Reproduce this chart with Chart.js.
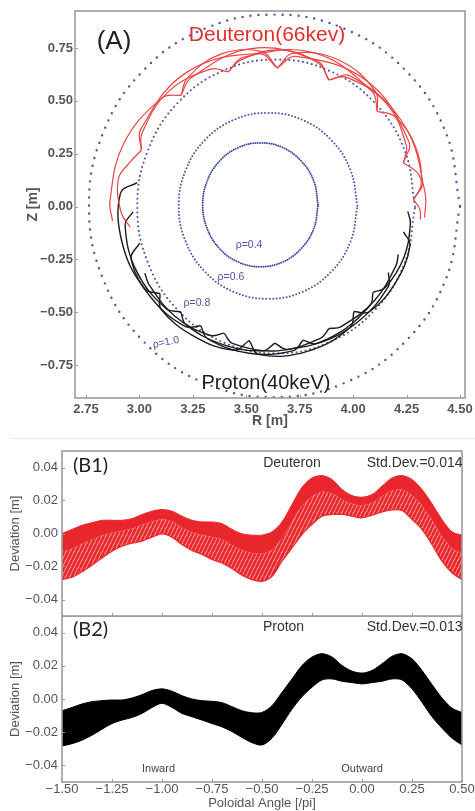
<!DOCTYPE html>
<html>
<head>
<meta charset="utf-8">
<title>Fast ion orbits and deviation</title>
<script src="https://cdn.jsdelivr.net/npm/chart.js@4.4.1/dist/chart.umd.min.js"></script>
<style>
  html, body { margin: 0; padding: 0; background: #fff; }
  body { width: 475px; height: 811px; position: relative; overflow: hidden; }
  canvas { position: absolute; left: 0; }
  #orbitChart { top: 0; }
  #deuteronChart { top: 440px; }
  #protonChart { top: 616px; }
  .sep { position: absolute; left: 10px; right: 0; top: 438px; border-top: 1px solid #e6eaf0; }
</style>
</head>
<body>
<div class="sep"></div>
<canvas id="orbitChart" width="475" height="430"></canvas>
<canvas id="deuteronChart" width="475" height="180"></canvas>
<canvas id="protonChart" width="475" height="195"></canvas>
<script>
// ---- panel A: poloidal cross-section, points are [R, Z] in m ----
const rTicks = [2.75, 3.00, 3.25, 3.50, 3.75, 4.00, 4.25, 4.50];
const zTicks = [-0.75, -0.50, -0.25, 0.00, 0.25, 0.50, 0.75];

const surfaceRho10 = [[4.500,0.003],[4.434,0.349],[4.246,0.643],[3.964,0.839],[3.632,0.908],[3.300,0.839],[3.018,0.643],[2.830,0.349],
  [2.764,0.003],[2.830,-0.343],[3.018,-0.637],[3.300,-0.833],[3.632,-0.902],[3.964,-0.833],[4.246,-0.637],[4.434,-0.343]];
const surfaceRho08 = [[4.290,0.000],[4.241,0.266],[4.100,0.491],[3.889,0.642],[3.640,0.695],[3.391,0.642],[3.180,0.491],[3.040,0.266],
  [2.990,0.000],[3.040,-0.266],[3.180,-0.491],[3.391,-0.642],[3.640,-0.695],[3.889,-0.642],[4.100,-0.491],[4.241,-0.266]];
const surfaceRho06 = [[4.020,0.003],[3.988,0.171],[3.898,0.314],[3.762,0.410],[3.602,0.443],[3.442,0.410],[3.306,0.314],[3.216,0.171],
  [3.184,0.003],[3.216,-0.165],[3.306,-0.308],[3.442,-0.404],[3.602,-0.437],[3.762,-0.404],[3.898,-0.308],[3.988,-0.165]];
const surfaceRho04 = [[3.836,0.008],[3.816,0.120],[3.757,0.215],[3.669,0.279],[3.566,0.301],[3.463,0.279],[3.375,0.215],[3.317,0.120],
  [3.296,0.008],[3.317,-0.104],[3.375,-0.199],[3.463,-0.263],[3.566,-0.285],[3.669,-0.263],[3.757,-0.199],[3.816,-0.104]];

// gyro arcs: inner cusp -> outer band -> later inner cusp
const deuteronOrbit = [
  [[2.957,-0.098],[2.914,-0.027],[2.901,0.129],[2.954,0.208],[3.009,0.266]],
  [[2.874,-0.069],[2.862,0.025],[2.925,0.295],[3.106,0.514],[3.195,0.527]],
  [[3.009,0.266],[3.012,0.347],[3.133,0.541],[3.333,0.650],[3.416,0.637]],
  [[3.195,0.527],[3.226,0.610],[3.381,0.721],[3.570,0.734],[3.645,0.655]],
  [[3.416,0.637],[3.475,0.694],[3.660,0.741],[3.839,0.677],[3.886,0.599]],
  [[3.645,0.655],[3.722,0.726],[3.939,0.690],[4.104,0.545],[4.113,0.450]],
  [[3.886,0.599],[3.970,0.611],[4.154,0.489],[4.249,0.288],[4.235,0.207]],
  [[4.113,0.450],[4.195,0.425],[4.293,0.281],[4.318,0.108],[4.283,0.032]],
  [[4.235,0.207],[4.304,0.155],[4.339,0.048],[4.334,-0.052]],
  [[4.283,0.032],[4.312,-0.014],[4.315,-0.062]],
  [[3.009,0.266],[3.006,0.365],[3.224,0.637],[3.559,0.723],[3.645,0.655]],
  [[3.195,0.527],[3.242,0.609],[3.523,0.747],[3.830,0.690],[3.886,0.599]],
  [[3.416,0.637],[3.485,0.706],[3.814,0.728],[4.088,0.545],[4.113,0.450]],
  [[3.645,0.655],[3.733,0.710],[4.063,0.595],[4.261,0.307],[4.235,0.207]],
  [[3.886,0.599],[3.987,0.617],[4.221,0.413],[4.325,0.121],[4.283,0.032]]
];
const protonOrbit = [
  [[2.989,0.113],[2.911,0.062],[2.920,-0.175],[3.023,-0.388],[3.096,-0.412]],
  [[2.970,-0.025],[2.933,-0.089],[2.987,-0.307],[3.124,-0.483],[3.193,-0.498]],
  [[3.001,-0.173],[2.961,-0.250],[3.057,-0.434],[3.213,-0.567],[3.287,-0.564]],
  [[3.025,-0.316],[3.047,-0.373],[3.166,-0.519],[3.328,-0.609],[3.396,-0.599]],
  [[3.096,-0.412],[3.102,-0.487],[3.256,-0.614],[3.442,-0.680],[3.513,-0.634]],
  [[3.193,-0.498],[3.219,-0.560],[3.388,-0.652],[3.575,-0.683],[3.634,-0.646]],
  [[3.287,-0.564],[3.320,-0.626],[3.513,-0.694],[3.717,-0.683],[3.766,-0.632]],
  [[3.396,-0.599],[3.438,-0.649],[3.646,-0.683],[3.846,-0.624],[3.887,-0.577]],
  [[3.513,-0.634],[3.561,-0.701],[3.790,-0.684],[3.986,-0.572],[4.003,-0.497]],
  [[3.634,-0.646],[3.692,-0.676],[3.909,-0.612],[4.079,-0.468],[4.093,-0.406]],
  [[3.766,-0.632],[3.830,-0.649],[4.024,-0.544],[4.165,-0.378],[4.165,-0.312]],
  [[3.887,-0.577],[3.944,-0.568],[4.098,-0.447],[4.200,-0.281],[4.211,-0.226]],
  [[4.003,-0.497],[4.076,-0.498],[4.199,-0.359],[4.266,-0.185],[4.236,-0.120]],
  [[4.093,-0.406],[4.151,-0.382],[4.237,-0.242],[4.268,-0.081],[4.256,-0.024]]
];

// ---- panels B1/B2: deviation envelopes vs poloidal angle ----
const angleTicks = [-1.50, -1.25, -1.00, -0.75, -0.50, -0.25, 0.00, 0.25, 0.50];
const deviationTicks = [-0.04, -0.02, 0.00, 0.02, 0.04];
const poloidalAngle = [-1.50, -1.45, -1.40, -1.35, -1.30, -1.25, -1.20, -1.15, -1.10, -1.05, -1.00,
  -0.95, -0.90, -0.85, -0.80, -0.75, -0.70, -0.65, -0.60, -0.55, -0.50,
  -0.45, -0.40, -0.35, -0.30, -0.25, -0.20, -0.15, -0.10, -0.05, 0.00,
  0.05, 0.10, 0.15, 0.20, 0.25, 0.30, 0.35, 0.40, 0.45, 0.50];
const deuteronUpper = [0.000, 0.0025, 0.005, 0.0065, 0.008, 0.008, 0.008, 0.009, 0.0115, 0.0135, 0.0145,
  0.0135, 0.0105, 0.008, 0.007, 0.007, 0.006, 0.0025, -0.0002, -0.001, -0.001,
  0.001, 0.007, 0.0176, 0.028, 0.0337, 0.0351, 0.0327, 0.0267, 0.023, 0.022,
  0.0236, 0.0287, 0.0337, 0.0351, 0.0327, 0.0267, 0.018, 0.0085, 0.001, -0.001];
const deuteronDense = [-0.0112, -0.0091, -0.0063, -0.0038, -0.0011, 0.0005, 0.0017, 0.0030, 0.0051, 0.0072, 0.0086,
  0.0072, 0.0036, 0.0007, -0.0009, -0.0021, -0.0035, -0.0070, -0.0102, -0.0118, -0.0122,
  -0.0098, -0.0025, 0.0071, 0.0166, 0.0224, 0.0253, 0.0242, 0.0206, 0.0180, 0.0170,
  0.0186, 0.0225, 0.0259, 0.0266, 0.0230, 0.0170, 0.0081, -0.0016, -0.0089, -0.0118];
const deuteronLower = [-0.028, -0.0265, -0.0232, -0.0192, -0.0148, -0.0107, -0.0077, -0.0059, -0.0046, -0.0022, -0.0002,
  -0.0022, -0.0067, -0.0103, -0.0127, -0.0158, -0.0178, -0.0212, -0.0253, -0.028, -0.029,
  -0.026, -0.0168, -0.0087, -0.0006, 0.0055, 0.0105, 0.0115, 0.0115, 0.0105, 0.0095,
  0.0111, 0.0131, 0.0143, 0.0139, 0.0085, 0.0025, -0.0067, -0.0168, -0.0238, -0.028];
const protonUpper = [-0.0071, -0.0051, -0.0030, -0.0016, -0.0010, -0.0006, -0.0006, 0.0006, 0.0026, 0.0051, 0.0061,
  0.0047, 0.0020, 0.0000, -0.0010, -0.0014, -0.0022, -0.0046, -0.0071, -0.0083, -0.0081,
  -0.0040, 0.0040, 0.0121, 0.0202, 0.0253, 0.0273, 0.0253, 0.0202, 0.0168, 0.0156,
  0.0172, 0.0212, 0.0257, 0.0273, 0.0242, 0.0172, 0.0087, 0.0006, -0.0055, -0.0081];
const protonLower = [-0.0283, -0.0269, -0.0248, -0.0218, -0.0182, -0.0148, -0.0127, -0.0111, -0.0087, -0.0051, -0.0026,
  -0.0051, -0.0087, -0.0107, -0.0127, -0.0148, -0.0168, -0.0196, -0.0232, -0.0263, -0.0277,
  -0.0236, -0.0152, -0.0061, 0.0014, 0.0071, 0.0115, 0.0121, 0.0107, 0.0099, 0.0091,
  0.0099, 0.0107, 0.0121, 0.0115, 0.0061, -0.0020, -0.0107, -0.0176, -0.0236, -0.0277];

Chart.defaults.font.family = "'Liberation Sans', Arial, sans-serif";
Chart.defaults.animation = false;

const fmt = v => v.toFixed(2).replace('-', '\u2212');
const toXY = pts => pts.map(([x, y]) => ({ x, y }));

// frame, inward tick marks and free text placed through the scales
const figureFrame = {
    id: 'figureFrame',
    afterDraw(chart, args, opts) {
        const { ctx, chartArea: a, scales: { x, y } } = chart;
        ctx.save();
        ctx.strokeStyle = '#9c9c9c';
        ctx.lineWidth = 1.6;
        ctx.strokeRect(a.left, a.top, a.right - a.left, a.bottom - a.top);
        ctx.lineWidth = 1;
        ctx.beginPath();
        x.ticks.forEach(t => {
            const px = Math.round(x.getPixelForValue(t.value)) + 0.5;
            ctx.moveTo(px, a.bottom); ctx.lineTo(px, a.bottom - 3);
        });
        y.ticks.forEach(t => {
            const py = Math.round(y.getPixelForValue(t.value)) + 0.5;
            ctx.moveTo(a.left, py); ctx.lineTo(a.left + 3, py);
        });
        ctx.stroke();
        (opts.labels || []).forEach(l => {
            ctx.save();
            ctx.font = l.font;
            ctx.fillStyle = l.color;
            ctx.textAlign = l.align || 'center';
            ctx.textBaseline = 'middle';
            ctx.translate(x.getPixelForValue(l.x), y.getPixelForValue(l.y));
            if (l.rotate) ctx.rotate(l.rotate * Math.PI / 180);
            ctx.fillText(l.text, 0, 0);
            ctx.restore();
        });
        ctx.restore();
    }
};

class OrbitFigure {
    constructor() {
        this.buildOrbitChart();
        this.buildDeviationCharts();
    }

    axis(ticks, extra) {
        return Object.assign({
            type: 'linear',
            afterBuildTicks: s => { s.ticks = ticks.map(value => ({ value })); },
            grid: { display: false, drawTicks: false },
            border: { display: false },
        }, extra);
    }

    buildOrbitChart() {
        const ringStyle = [
            { color: '#4a55ad', width: 2.4, gap: 8 },
            { color: '#4a55ad', width: 2.1, gap: 4.6 },
            { color: '#4a55ad', width: 2.0, gap: 3.4 },
            { color: '#3d4a9e', width: 2.0, gap: 2.3 }
        ];
        const rings = [surfaceRho10, surfaceRho08, surfaceRho06, surfaceRho04].map((pts, i) => ({
            data: toXY(pts.concat([pts[0]])),
            showLine: true, pointRadius: 0, tension: 0.4,
            borderColor: ringStyle[i].color,
            borderWidth: ringStyle[i].width,
            borderDash: [0, ringStyle[i].gap],
            borderCapStyle: 'round'
        }));
        const arcs = (orbit, color, width) => orbit.map(arc => ({
            data: toXY(arc),
            showLine: true, pointRadius: 0, tension: 0.4,
            borderColor: color, borderWidth: width
        }));
        const tickFont = { size: 13, weight: 'bold' };
        const titleFont = { size: 14, weight: 'bold' };
        const rho = { font: '10.5px "Liberation Sans"', color: '#4b54a8' };

        this.orbitChart = new Chart(document.getElementById('orbitChart'), {
            type: 'scatter',
            data: {
                datasets: [
                    ...arcs(deuteronOrbit, '#e84545', 1.2),
                    ...arcs(protonOrbit, '#1c1c1c', 1.4),
                    ...rings
                ]
            },
            options: {
                responsive: false,
                layout: { padding: { left: 22, top: 11, right: 10, bottom: 0 } },
                plugins: {
                    legend: { display: false },
                    tooltip: { enabled: false },
                    figureFrame: {
                        labels: [
                            { text: '(A)', x: 2.881, y: 0.779, font: '26px "Liberation Sans"', color: '#222' },
                            { text: 'Deuteron(66kev)', x: 3.597, y: 0.812, font: '21px "Liberation Sans"', color: '#e0302c' },
                            { text: 'Proton(40keV)', x: 3.592, y: -0.835, font: '20px "Liberation Sans"', color: '#1c1c1c' },
                            { text: 'ρ=0.4', x: 3.513, y: -0.182, ...rho },
                            { text: 'ρ=0.6', x: 3.428, y: -0.334, ...rho },
                            { text: 'ρ=0.8', x: 3.269, y: -0.457, ...rho },
                            { text: 'ρ=1.0', x: 3.124, y: -0.643, rotate: -12, ...rho }
                        ]
                    }
                },
                scales: {
                    x: this.axis(rTicks, {
                        min: 2.6985, max: 4.5234,
                        afterFit: s => { s.height = 32; s.paddingLeft = 0; s.paddingRight = 0; },
                        ticks: { callback: fmt, padding: 4, color: '#555', font: tickFont, autoSkip: false, maxRotation: 0 },
                        title: { display: true, text: 'R [m]', color: '#555', font: titleFont, padding: { top: 0, bottom: 0 } }
                    }),
                    y: this.axis(zTicks, {
                        min: -0.906, max: 0.925,
                        afterFit: s => { s.width = 53; s.paddingTop = 0; s.paddingBottom = 0; },
                        ticks: { callback: fmt, padding: 2, color: '#555', font: tickFont, autoSkip: false },
                        title: { display: true, text: 'Z [m]', color: '#555', font: titleFont, padding: { top: 3, bottom: 0 } }
                    })
                }
            },
            plugins: [figureFrame]
        });
    }

    hatch(canvas, line, gap) {
        const tile = document.createElement('canvas');
        tile.width = 4; tile.height = 8;
        const t = tile.getContext('2d');
        t.fillStyle = gap;
        t.fillRect(0, 0, 4, 8);
        t.strokeStyle = line;
        t.lineWidth = 2.7;
        [-4, 0, 4].forEach(dx => {
            t.beginPath(); t.moveTo(dx, 8); t.lineTo(dx + 4, 0); t.stroke();
        });
        return canvas.getContext('2d').createPattern(tile, 'repeat');
    }

    deviationOptions(isBottom, labels) {
        const tickFont = { size: 13 };
        return {
            responsive: false,
            layout: { padding: { left: 8, top: isBottom ? 0 : 11, right: 13, bottom: 0 } },
            plugins: {
                legend: { display: false },
                tooltip: { enabled: false },
                figureFrame: { labels }
            },
            scales: {
                x: this.axis(angleTicks, {
                    min: -1.5, max: 0.5,
                    afterFit: s => { s.height = isBottom ? 29 : 4; s.paddingLeft = 0; s.paddingRight = 0; },
                    ticks: { display: isBottom, callback: fmt, padding: 0, color: '#555', font: tickFont, autoSkip: false, maxRotation: 0 },
                    title: { display: isBottom, text: 'Poloidal Angle [/pi]', color: '#555', font: { size: 13 }, padding: { top: 0, bottom: 0 } }
                }),
                y: this.axis(deviationTicks, {
                    min: -0.05, max: 0.05,
                    afterFit: s => { s.width = 54; s.paddingTop = 0; s.paddingBottom = 0; },
                    ticks: { callback: fmt, padding: 4, color: '#555', font: tickFont, autoSkip: false },
                    title: { display: true, text: 'Deviation [m]', color: '#555', font: { size: 13 }, padding: { top: 0, bottom: 0 } }
                })
            }
        };
    }

    buildDeviationCharts() {
        const band = ys => poloidalAngle.map((x, i) => ({ x, y: ys[i] }));
        const line = { showLine: true, pointRadius: 0, tension: 0.3 };
        const big = '20px Lato';
        const small = '14px "Liberation Sans"';
        const note = '11px "Liberation Sans"';

        const dCanvas = document.getElementById('deuteronChart');
        this.deuteronChart = new Chart(dCanvas, {
            type: 'scatter',
            data: {
                datasets: [
                    { ...line, data: band(deuteronUpper), borderColor: '#e9262b', borderWidth: 1, fill: false },
                    { ...line, data: band(deuteronDense), borderWidth: 0, borderColor: 'transparent', fill: '-1', backgroundColor: '#e9262b' },
                    { ...line, data: band(deuteronLower), borderColor: '#e9262b', borderWidth: 1.2, fill: '-1',
                      backgroundColor: this.hatch(dCanvas, '#e9262b', '#f49a9a') }
                ]
            },
            options: this.deviationOptions(false, [
                { text: '(B1)', x: -1.445, y: 0.0412, align: 'left', font: big, color: '#222' },
                { text: 'Deuteron', x: -0.35, y: 0.0427, font: small, color: '#333' },
                { text: 'Std.Dev.=0.014', x: 0.503, y: 0.0427, align: 'right', font: small, color: '#333' }
            ]),
            plugins: [figureFrame]
        });

        this.protonChart = new Chart(document.getElementById('protonChart'), {
            type: 'scatter',
            data: {
                datasets: [
                    { ...line, data: band(protonUpper), borderColor: '#000', borderWidth: 1, fill: false },
                    { ...line, data: band(protonLower), borderColor: '#000', borderWidth: 1, fill: '-1', backgroundColor: '#000' }
                ]
            },
            options: this.deviationOptions(true, [
                { text: '(B2)', x: -1.445, y: 0.0418, align: 'left', font: big, color: '#222' },
                { text: 'Proton', x: -0.3925, y: 0.043, font: small, color: '#333' },
                { text: 'Std.Dev.=0.013', x: 0.503, y: 0.043, align: 'right', font: small, color: '#333' },
                { text: 'Inward', x: -1.0175, y: -0.0424, font: note, color: '#444' },
                { text: 'Outward', x: 0.0, y: -0.0424, font: note, color: '#444' }
            ]),
            plugins: [figureFrame]
        });
    }
}

window.addEventListener('DOMContentLoaded', () => {
    new OrbitFigure();
});
</script>
</body>
</html>
